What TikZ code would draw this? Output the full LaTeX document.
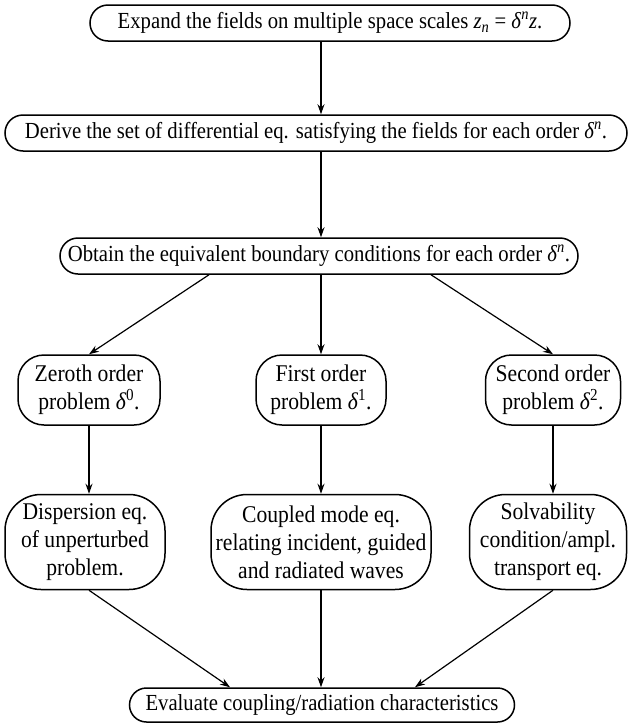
\documentclass[tikz,border=0pt]{standalone}
\usepackage{fontspec}
\setmainfont[FakeStretch=0.9]{Liberation Serif}
\usetikzlibrary{arrows.meta}
\newcommand\dlt[1]{\textit{δ}\textsuperscript{#1}}
\begin{document}
\begin{tikzpicture}[x=1pt,y=-1pt,
  box/.style={draw,line width=1.5pt,align=center,inner sep=0pt,
    font=\fontsize{23}{27}\selectfont},
  bigbox/.style={box,font=\fontsize{24}{28}\selectfont},
  arr/.style={line width=1.2pt,-{Stealth[length=10pt,width=7pt]}}]
\useasboundingbox (0,0) rectangle (635,726);
\node[box,rounded corners=18pt,minimum width=480pt,minimum height=36pt] (n1) at (330,23)
  {Expand the fields on multiple space scales \textit{z}\textsubscript{\textit{n}} = \dlt{\textit{n}}\textit{z}.};
\node[box,rounded corners=18pt,minimum width=622pt,minimum height=36pt] (n2) at (316,133)
  {Derive the set of differential eq. satisfying the fields for each order \dlt{\textit{n}}.};
\node[box,rounded corners=18pt,minimum width=518pt,minimum height=36pt] (n3) at (319,256)
  {Obtain the equivalent boundary conditions for each order \dlt{\textit{n}}.};
\node[bigbox,rounded corners=26pt,minimum width=142pt,minimum height=70pt] (z0) at (89,390)
  {Zeroth order\\problem \dlt{0}.};
\node[bigbox,rounded corners=26pt,minimum width=130pt,minimum height=70pt] (z1) at (321,390)
  {First order\\problem \dlt{1}.};
\node[bigbox,rounded corners=26pt,minimum width=135pt,minimum height=70pt] (z2) at (553,390)
  {Second order\\problem \dlt{2}.};
\node[bigbox,rounded corners=36pt,minimum width=160pt,minimum height=95pt] (d0) at (85,542)
  {Dispersion eq.\\of unperturbed\\problem.};
\node[bigbox,rounded corners=36pt,minimum width=220pt,minimum height=95pt] (d1) at (321,542)
  {Coupled mode eq.\\relating incident, guided\\and radiated waves};
\node[bigbox,rounded corners=36pt,minimum width=157pt,minimum height=95pt] (d2) at (548,542)
  {Solvability\\condition/ampl.\\transport eq.};
\node[box,rounded corners=17pt,minimum width=385pt,minimum height=34pt] (ev) at (322,705)
  {Evaluate coupling/radiation characteristics};
\draw[arr] (n1.south -| z1) -- (n2.north -| z1);
\draw[arr] (n2.south -| z1) -- (n3.north -| z1);
\draw[arr] ([xshift=-110pt]n3.south) -- (z0.north);
\draw[arr] (n3.south -| z1) -- (z1.north);
\draw[arr] ([xshift=112pt]n3.south) -- (z2.north);
\draw[arr] (z0.south) -- (z0.south |- d0.north);
\draw[arr] (z1.south) -- (d1.north);
\draw[arr] (z2.south) -- (z2.south |- d2.north);
\draw[arr] (d0.south -| z0) -- ([xshift=-92pt]ev.north);
\draw[arr] (d1.south) -- (ev.north -| d1);
\draw[arr] (d2.south -| z2) -- ([xshift=93pt]ev.north);
\end{tikzpicture}
\end{document}
